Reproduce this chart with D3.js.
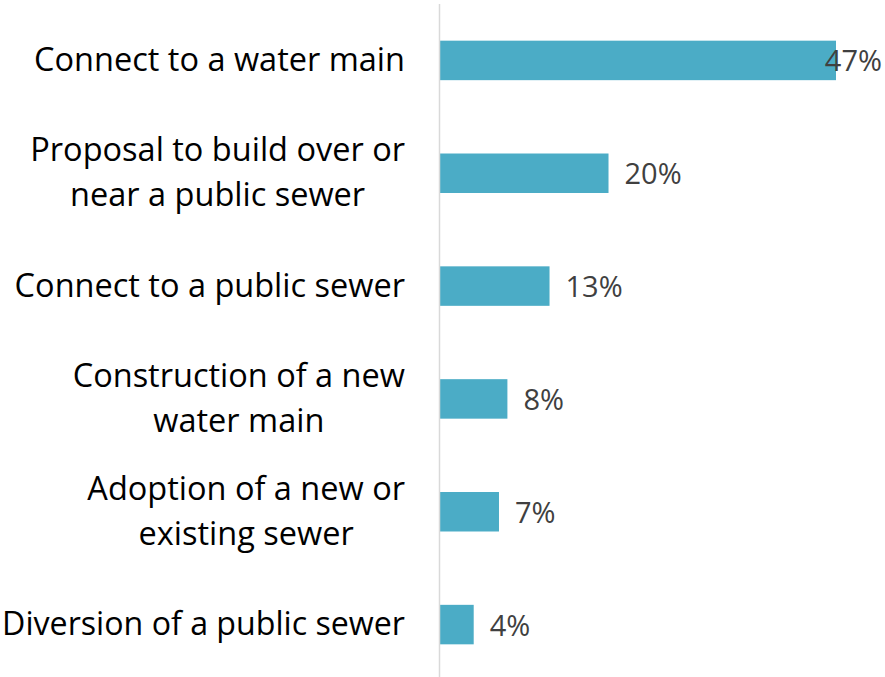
<!DOCTYPE html>
<html>
<head>
<meta charset="utf-8">
<script src="https://cdn.jsdelivr.net/npm/d3@7"></script>
<style>
  html, body { margin: 0; padding: 0; background: #fff; }
  svg { display: block; }
</style>
</head>
<body>
<div id="chart"></div>
<script>
// Category labels (each line of a wrapped label is an entry)
const categories = [
  ["Connect to a water main"],
  ["Proposal to build over or", "near a public sewer"],
  ["Connect to a public sewer"],
  ["Construction of a new", "water main"],
  ["Adoption of a new or", "existing sewer"],
  ["Diversion of a public sewer"]
];
// Share of requests, percent
const values = [47, 20, 13, 8, 7, 4];
const valueLabels = ["47%", "20%", "13%", "8%", "7%", "4%"];

const width = 885, height = 677;
const axisX = 440;
const plotTop = 4, plotBottom = 681;

const svg = d3.select("#chart").append("svg")
  .attr("width", width).attr("height", height);

const ids = d3.range(values.length);

const y = d3.scaleBand()
  .domain(ids)
  .range([plotTop, plotBottom])
  .paddingInner(0.65)
  .paddingOuter(0.325);

const x = d3.scaleLinear()
  .domain([0, 47])
  .range([axisX, 836]);

// Bars
svg.append("g").selectAll("rect")
  .data(ids)
  .join("rect")
  .attr("x", x(0))
  .attr("y", i => y(i))
  .attr("width", i => x(values[i]) - x(0))
  .attr("height", y.bandwidth())
  .attr("fill", "#4BACC6");

// Vertical category axis line
svg.append("line")
  .attr("x1", axisX - 0.5).attr("x2", axisX - 0.5)
  .attr("y1", plotTop).attr("y2", height)
  .attr("stroke", "#d9d9d9")
  .attr("stroke-width", 1.5);

const labelFont = "'Open Sans', sans-serif";
const labelSize = 32.5;
const lineGap = 45;
const labelRight = axisX - 35;

// Category labels: right-aligned block, lines centred within it
const catG = svg.append("g");
ids.forEach(i => {
  const lines = categories[i];
  const cy = y(i) + y.bandwidth() / 2;
  const g = catG.append("g");
  const texts = g.selectAll("text")
    .data(lines)
    .join("text")
    .attr("y", (d, k) => cy + 10.5 + (k - (lines.length - 1) / 2) * lineGap)
    .attr("font-family", labelFont)
    .attr("font-size", labelSize)
    .attr("fill", "#000")
    .text(d => d);
  let blockW = d3.max(texts.nodes(), n => n.getComputedTextLength());
  // shrink a label slightly if it would run past the left edge
  const room = labelRight - 2;
  if (blockW > room) {
    texts.attr("font-size", labelSize * room / blockW);
    blockW = room;
  }
  texts.attr("x", labelRight - blockW / 2).attr("text-anchor", "middle");
});

// Value labels, kept inside the chart's right edge
svg.append("g").selectAll("text")
  .data(ids)
  .join("text")
  .attr("font-family", labelFont)
  .attr("font-size", 29)
  .attr("fill", "#404040")
  .attr("y", i => y(i) + y.bandwidth() / 2 + 11)
  .text(i => valueLabels[i])
  .each(function(i) {
    const w = this.getComputedTextLength();
    const px = Math.min(x(values[i]) + 16, width - 3 - w);
    d3.select(this).attr("x", px);
  });
</script>
</body>
</html>
